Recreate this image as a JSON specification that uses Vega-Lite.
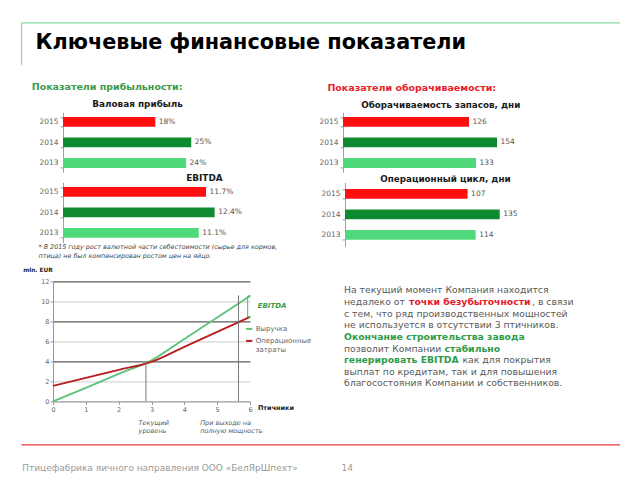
{
  "$schema": "https://vega.github.io/schema/vega-lite/v6.json",
  "background": "white",
  "padding": {"left": 0, "top": 22.4, "right": 0, "bottom": 0},
  "spacing": 0,
  "resolve": {"scale": {"color": "independent"}, "legend": {"color": "independent"}},
  "config": {
    "view": {"stroke": null},
    "font": "DejaVu Sans",
    "axis": {"labelFont": "DejaVu Sans", "titleFont": "DejaVu Sans"},
    "title": {"font": "DejaVu Sans"},
    "legend": {"labelFont": "DejaVu Sans"}
  },
  "vconcat": [
    {
      "bounds": "flush", "spacing": 0,
      "hconcat": [
        {"width": 21, "height": 1, "data": {"values": []}, "mark": {"type": "text", "text": ""}, "encoding": {}},
        {
          "width": 599, "height": 42,
          "data": {"values": []},
          "mark": {"type": "text", "text": ""},
          "encoding": {
            "x": {"field": "v", "type": "quantitative", "scale": {"domain": [0, 1]},
              "axis": {"orient": "top", "domainColor": "#86d9a0", "domainWidth": 1.2, "ticks": false, "labels": false, "grid": false,
                "title": "Ключевые финансовые показатели", "titleX": 14, "titleY": 26.3, "titleAlign": "left", "titleBaseline": "alphabetic",
                "titleFontSize": 20.8, "titleFontWeight": "bold", "titleColor": "#000000"}},
            "y": {"field": "v", "type": "quantitative", "scale": {"domain": [0, 1]},
              "axis": {"domainColor": "#86d9a0", "domainWidth": 1.2, "ticks": false, "labels": false, "grid": false, "title": null}}
          }
        }
      ]
    },
    {"width": 1, "height": 16.5, "data": {"values": []}, "mark": {"type": "text", "text": ""}, "encoding": {}},
    {
      "bounds": "flush", "spacing": 0,
      "resolve": {"scale": {"color": "independent"}, "legend": {"color": "independent"}},
      "hconcat": [
        {"width": 63, "height": 1, "data": {"values": []}, "mark": {"type": "text", "text": ""}, "encoding": {}},
        {
          "width": 279.3, "height": 60,
          "title": {"text": "Показатели прибыльности:", "anchor": "start", "frame": "group", "dx": -31.3, "offset": 8, "fontSize": 9.5, "fontWeight": "bold", "color": "#3a9a4c"},
          "data": {"values": [{"year": "2015", "value": 0.18}, {"year": "2014", "value": 0.25}, {"year": "2013", "value": 0.24}]},
          "encoding": {
            "y": {"field": "year", "type": "ordinal", "sort": "descending", "scale": {"paddingInner": 0.52, "paddingOuter": 0.22},
              "axis": {"domainColor": "#a0a0a0", "tickColor": "#a0a0a0", "tickSize": 3, "tickBand": "extent", "labelColor": "#666666", "labelFontSize": 7.5, "labelPadding": 2, "grid": false,
                "title": "Валовая прибыль", "titleX": 28.7, "titleY": -8.8, "titleAngle": 0, "titleAlign": "left", "titleBaseline": "middle", "titleFontSize": 8.9, "titleFontWeight": "bold", "titleColor": "#1a1a1a"}},
            "x": {"field": "value", "type": "quantitative", "scale": {"domain": [0, 0.5445], "nice": false}, "axis": null}
          },
          "layer": [
            {"mark": {"type": "bar"}, "encoding": {"color": {"field": "year", "type": "nominal", "scale": {"domain": ["2013", "2014", "2015"], "range": ["#4fd97b", "#108a30", "#ff1010"]}, "legend": null}}},
            {"mark": {"type": "text", "align": "left", "baseline": "middle", "dx": 3.5, "fontSize": 7.5, "color": "#555555"}, "encoding": {"text": {"field": "value", "type": "quantitative", "format": ".0%"}}}
          ]
        },
        {
          "width": 190, "height": 60,
          "title": {"text": "Показатели оборачиваемости:", "anchor": "start", "frame": "group", "dx": -15.6, "offset": 8, "fontSize": 9.5, "fontWeight": "bold", "color": "#e8202a"},
          "data": {"values": [{"year": "2015", "value": 126}, {"year": "2014", "value": 154}, {"year": "2013", "value": 133}]},
          "encoding": {
            "y": {"field": "year", "type": "ordinal", "sort": "descending", "scale": {"paddingInner": 0.52, "paddingOuter": 0.22},
              "axis": {"domainColor": "#a0a0a0", "tickColor": "#a0a0a0", "tickSize": 3, "tickBand": "extent", "labelColor": "#666666", "labelFontSize": 7.5, "labelPadding": 2, "grid": false,
                "title": "Оборачиваемость запасов, дни", "titleX": 17.7, "titleY": -7.5, "titleAngle": 0, "titleAlign": "left", "titleBaseline": "middle", "titleFontSize": 8.8, "titleFontWeight": "bold", "titleColor": "#1a1a1a"}},
            "x": {"field": "value", "type": "quantitative", "scale": {"domain": [0, 190], "nice": false}, "axis": null}
          },
          "layer": [
            {"mark": {"type": "bar"}, "encoding": {"color": {"field": "year", "type": "nominal", "scale": {"domain": ["2013", "2014", "2015"], "range": ["#4fd97b", "#108a30", "#ff1010"]}, "legend": null}}},
            {"mark": {"type": "text", "align": "left", "baseline": "middle", "dx": 3.5, "fontSize": 7.5, "color": "#555555"}, "encoding": {"text": {"field": "value", "type": "quantitative"}}}
          ]
        }
      ]
    },
    {"width": 1, "height": 1, "data": {"values": []}, "mark": {"type": "text", "text": ""}, "encoding": {}},
    {
      "bounds": "flush", "spacing": 0,
      "resolve": {"scale": {"color": "independent"}, "legend": {"color": "independent"}},
      "hconcat": [
        {"width": 63, "height": 1, "data": {"values": []}, "mark": {"type": "text", "text": ""}, "encoding": {}},
        {
          "width": 281.3, "height": 60,
          "data": {"values": [{"year": "2015", "value": 0.117}, {"year": "2014", "value": 0.124}, {"year": "2013", "value": 0.111}]},
          "encoding": {
            "y": {"field": "year", "type": "ordinal", "sort": "descending", "scale": {"paddingInner": 0.52, "paddingOuter": 0.22},
              "axis": {"domainColor": "#a0a0a0", "tickColor": "#a0a0a0", "tickSize": 3, "tickBand": "extent", "labelColor": "#666666", "labelFontSize": 7.5, "labelPadding": 2, "grid": false,
                "title": "EBITDA", "titleX": 122.7, "titleY": -4.8, "titleAngle": 0, "titleAlign": "left", "titleBaseline": "middle", "titleFontSize": 8.9, "titleFontWeight": "bold", "titleColor": "#1a1a1a"}},
            "x": {"field": "value", "type": "quantitative", "scale": {"domain": [0, 0.23], "nice": false},
              "axis": {"orient": "bottom", "domain": false, "ticks": false, "labels": false, "grid": false,
                "title": ["* В 2015 году рост валютной части себестоимости (сырье для кормов,", "птица) не был компенсирован ростом цен на яйцо."],
                "titleX": -25, "titleY": 1.5, "titleAlign": "left", "titleBaseline": "top", "titleAngle": 0, "titleFontSize": 6.4, "titleFontStyle": "italic", "titleFontWeight": "normal", "titleColor": "#444444", "titleLineHeight": 9}}
          },
          "layer": [
            {"mark": {"type": "bar"}, "encoding": {"color": {"field": "year", "type": "nominal", "scale": {"domain": ["2013", "2014", "2015"], "range": ["#4fd97b", "#108a30", "#ff1010"]}, "legend": null}}},
            {"mark": {"type": "text", "align": "left", "baseline": "middle", "dx": 3.5, "fontSize": 7.5, "color": "#555555"}, "encoding": {"text": {"field": "value", "type": "quantitative", "format": ".1%"}}}
          ]
        },
        {
          "width": 175, "height": 64,
          "data": {"values": [{"year": "2015", "value": 107}, {"year": "2014", "value": 135}, {"year": "2013", "value": 114}]},
          "encoding": {
            "y": {"field": "year", "type": "ordinal", "sort": "descending", "scale": {"paddingInner": 0.52, "paddingOuter": 0.32},
              "axis": {"domainColor": "#a0a0a0", "tickColor": "#a0a0a0", "tickSize": 3, "tickBand": "extent", "labelColor": "#666666", "labelFontSize": 7.5, "labelPadding": 2, "grid": false,
                "title": "Операционный цикл, дни", "titleX": 34.7, "titleY": -4.2, "titleAngle": 0, "titleAlign": "left", "titleBaseline": "middle", "titleFontSize": 8.8, "titleFontWeight": "bold", "titleColor": "#1a1a1a"}},
            "x": {"field": "value", "type": "quantitative", "scale": {"domain": [0, 152.7], "nice": false}, "axis": null}
          },
          "layer": [
            {"mark": {"type": "bar"}, "encoding": {"color": {"field": "year", "type": "nominal", "scale": {"domain": ["2013", "2014", "2015"], "range": ["#4fd97b", "#108a30", "#ff1010"]}, "legend": null}}},
            {"mark": {"type": "text", "align": "left", "baseline": "middle", "dx": 3.5, "fontSize": 7.5, "color": "#555555"}, "encoding": {"text": {"field": "value", "type": "quantitative"}}}
          ]
        }
      ]
    },
    {"width": 1, "height": 6.2, "data": {"values": []}, "mark": {"type": "text", "text": ""}, "encoding": {}},
    {
      "bounds": "flush", "spacing": 0,
      "resolve": {"scale": {"color": "independent"}, "legend": {"color": "independent"}},
      "hconcat": [
        {"width": 52.3, "height": 1, "data": {"values": []}, "mark": {"type": "text", "text": ""}, "encoding": {}},
        {
          "width": 197, "height": 120,
          "resolve": {"axis": {"x": "independent", "y": "independent"}},
          "layer": [
            {
              "data": {"values": [
                {"series": "Выручка", "x": 0, "y": 0},
                {"series": "Выручка", "x": 1, "y": 1.35},
                {"series": "Выручка", "x": 2, "y": 2.75},
                {"series": "Выручка", "x": 3, "y": 4.1},
                {"series": "Выручка", "x": 4, "y": 6.25},
                {"series": "Выручка", "x": 5, "y": 8.4},
                {"series": "Выручка", "x": 6, "y": 10.55},
                {"series": "Операционные затраты", "x": 0, "y": 1.55},
                {"series": "Операционные затраты", "x": 1, "y": 2.35},
                {"series": "Операционные затраты", "x": 2, "y": 3.15},
                {"series": "Операционные затраты", "x": 3, "y": 3.95},
                {"series": "Операционные затраты", "x": 4, "y": 5.45},
                {"series": "Операционные затраты", "x": 5, "y": 6.95},
                {"series": "Операционные затраты", "x": 6, "y": 8.45}
              ]},
              "mark": {"type": "line", "strokeWidth": 1.8, "interpolate": "monotone"},
              "encoding": {
                "x": {"field": "x", "type": "quantitative", "scale": {"domain": [0, 6], "nice": false},
                  "axis": {"values": [0, 1, 2, 3, 4, 5, 6], "format": "d", "labelOverlap": false, "labelBound": false, "labelFlush": false, "domainColor": "#999999", "tickColor": "#999999", "tickSize": 3, "labelFontSize": 6.5, "labelColor": "#666666", "labelPadding": 2, "grid": false,
                    "title": "Птичники", "titleX": 204.4, "titleY": 6.6, "titleAlign": "left", "titleBaseline": "middle", "titleAngle": 0, "titleFontSize": 6.5, "titleFontWeight": "bold", "titleColor": "#222222"}},
                "y": {"field": "y", "type": "quantitative", "scale": {"domain": [0, 12], "nice": false},
                  "axis": {"values": [0, 2, 4, 6, 8, 10, 12], "labelOverlap": false, "labelBound": false, "labelFlush": false, "domainColor": "#999999", "tickColor": "#999999", "tickSize": 3, "labelFontSize": 6.5, "labelColor": "#666666", "labelPadding": 1,
                    "grid": true, "gridColor": {"condition": {"test": "datum.value == 4 || datum.value == 8 || datum.value == 12", "value": "#333333"}, "value": "#cccccc"}, "gridWidth": 1,
                    "title": "mln. EUR", "titleX": -30.3, "titleY": -11.7, "titleAlign": "left", "titleBaseline": "middle", "titleAngle": 0, "titleFontSize": 5.8, "titleFontWeight": "bold", "titleColor": "#222222"}},
                "color": {"field": "series", "type": "nominal", "scale": {"domain": ["Выручка", "Операционные затраты"], "range": ["#5cc27a", "#b81e1e"]},
                  "legend": {"orient": "none", "legendX": 191.7, "legendY": 43, "title": null, "symbolType": "stroke", "symbolStrokeWidth": 2, "symbolSize": 40, "labelFontSize": 7, "labelColor": "#666666", "labelOffset": 2, "rowPadding": 3,
                    "labelExpr": "datum.label == 'Операционные затраты' ? ['Операционные', 'затраты'] : datum.label"}}
              }
            },
            {
              "data": {"values": [
                {"x": 2.83, "top": 3.85, "t": "Текущий\nуровень"},
                {"x": 5.65, "top": 10.6, "t": "При выходе на\nполную мощность"}
              ]},
              "layer": [
                {"mark": {"type": "rule", "color": "#777777", "strokeWidth": 1}, "encoding": {"x": {"field": "x", "type": "quantitative", "axis": null}, "y": {"field": "top", "type": "quantitative", "axis": null}, "y2": {"datum": 0}}},
                {"transform": [{"filter": "datum.x < 4"}], "mark": {"type": "text", "align": "left", "baseline": "top", "dx": -7.3, "dy": 18.8, "lineBreak": "\n", "lineHeight": 8, "fontSize": 6.5, "fontStyle": "italic", "color": "#555555"},
                  "encoding": {"x": {"field": "x", "type": "quantitative", "axis": null}, "y": {"datum": 0, "type": "quantitative", "axis": null}, "text": {"field": "t"}}},
                {"transform": [{"filter": "datum.x >= 4"}], "mark": {"type": "text", "align": "left", "baseline": "top", "dx": -38.3, "dy": 18.8, "lineBreak": "\n", "lineHeight": 8, "fontSize": 6.5, "fontStyle": "italic", "color": "#555555"},
                  "encoding": {"x": {"field": "x", "type": "quantitative", "axis": null}, "y": {"datum": 0, "type": "quantitative", "axis": null}, "text": {"field": "t"}}}
              ]
            },
            {
              "data": {"values": [{"x": 5.93, "lo": 8.45, "hi": 10.55, "label": "EBITDA"}]},
              "layer": [
                {"mark": {"type": "rule", "color": "#4cb866", "strokeWidth": 1}, "encoding": {"x": {"field": "x", "type": "quantitative", "axis": null}, "y": {"field": "lo", "type": "quantitative", "axis": null}, "y2": {"field": "hi"}}},
                {"mark": {"type": "rule", "color": "#4cb866", "strokeWidth": 1}, "encoding": {"x": {"field": "x", "type": "quantitative", "axis": null}, "x2": {"datum": 6.03}, "y": {"field": "lo", "type": "quantitative", "axis": null}}},
                {"mark": {"type": "rule", "color": "#4cb866", "strokeWidth": 1}, "encoding": {"x": {"field": "x", "type": "quantitative", "axis": null}, "x2": {"datum": 6.03}, "y": {"field": "hi", "type": "quantitative", "axis": null}}},
                {"mark": {"type": "text", "align": "left", "baseline": "middle", "dx": 10, "fontSize": 7, "fontWeight": "bold", "fontStyle": "italic", "color": "#3a9a4c"},
                  "encoding": {"x": {"field": "x", "type": "quantitative", "axis": null}, "y": {"datum": 9.5, "type": "quantitative", "axis": null}, "text": {"field": "label"}}}
              ]
            }
          ]
        },
        {"width": 93.4, "height": 1, "data": {"values": []}, "mark": {"type": "text", "text": ""}, "encoding": {}},
        {
          "width": 270, "height": 111,
          "data": {"values": [
            {"line": 1, "part": 1, "kind": "n", "text": "На текущий момент Компания находится"},
            {"line": 2, "part": 1, "kind": "n", "text": "недалеко от"},
            {"line": 2, "part": 2, "kind": "r", "text": "точки безубыточности"},
            {"line": 2, "part": 3, "kind": "n", "text": ", в связи"},
            {"line": 3, "part": 1, "kind": "n", "text": "с тем, что ряд производственных мощностей"},
            {"line": 4, "part": 1, "kind": "n", "text": "не используется в отсутствии 3 птичников."},
            {"line": 5, "part": 1, "kind": "g", "text": "Окончание строительства завода"},
            {"line": 6, "part": 1, "kind": "n", "text": "позволит Компании"},
            {"line": 6, "part": 2, "kind": "g", "text": "стабильно"},
            {"line": 7, "part": 1, "kind": "g", "text": "генерировать EBITDA"},
            {"line": 7, "part": 2, "kind": "n", "text": "как для покрытия"},
            {"line": 8, "part": 1, "kind": "n", "text": "выплат по кредитам, так и для повышения"},
            {"line": 9, "part": 1, "kind": "n", "text": "благосостояния Компании и собственников."}
          ]},
          "encoding": {
            "y": {"field": "line", "type": "ordinal", "scale": {"type": "point", "padding": 0.776}, "axis": null},
            "x": {"datum": 0, "type": "quantitative", "scale": {"domain": [0, 1]}, "axis": null},
            "text": {"field": "text"}
          },
          "layer": [
            {"transform": [{"filter": "datum.part == 1 && datum.kind == 'n'"}], "mark": {"type": "text", "align": "left", "baseline": "middle", "fontSize": 9.3, "color": "#595959"}},
            {"transform": [{"filter": "datum.part == 1 && datum.kind == 'g'"}], "mark": {"type": "text", "align": "left", "baseline": "middle", "fontSize": 9.3, "fontWeight": "bold", "color": "#2e9b4a"}},
            {"transform": [{"filter": "datum.line == 2 && datum.part == 2"}], "mark": {"type": "text", "align": "left", "baseline": "middle", "dx": 65, "fontSize": 9.3, "fontWeight": "bold", "color": "#e8192c"}},
            {"transform": [{"filter": "datum.line == 2 && datum.part == 3"}], "mark": {"type": "text", "align": "left", "baseline": "middle", "dx": 188, "fontSize": 9.3, "color": "#595959"}},
            {"transform": [{"filter": "datum.line == 6 && datum.part == 2"}], "mark": {"type": "text", "align": "left", "baseline": "middle", "dx": 100.5, "fontSize": 9.3, "fontWeight": "bold", "color": "#2e9b4a"}},
            {"transform": [{"filter": "datum.line == 7 && datum.part == 2"}], "mark": {"type": "text", "align": "left", "baseline": "middle", "dx": 118.5, "fontSize": 9.3, "color": "#595959"}}
          ]
        }
      ]
    },
    {"width": 1, "height": 7.3, "data": {"values": []}, "mark": {"type": "text", "text": ""}, "encoding": {}},
    {
      "bounds": "flush", "spacing": 0,
      "hconcat": [
        {"width": 21, "height": 1, "data": {"values": []}, "mark": {"type": "text", "text": ""}, "encoding": {}},
        {
          "width": 599, "height": 1,
          "data": {"values": []},
          "mark": {"type": "text", "text": ""},
          "encoding": {
            "x": {"field": "v", "type": "quantitative", "scale": {"domain": [0, 1]},
              "axis": {"orient": "bottom", "domainColor": "#e8383d", "domainWidth": 1.3, "ticks": false, "labels": false, "grid": false,
                "title": "Птицефабрика яичного направления ООО «БелЯрШпехт»", "titleX": 0.7, "titleY": 23.2, "titleAlign": "left", "titleBaseline": "middle",
                "titleFontSize": 9, "titleFontWeight": "normal", "titleColor": "#9a9a9a"}},
            "y": {"field": "v", "type": "quantitative", "scale": {"domain": [0, 1]},
              "axis": {"domain": false, "ticks": false, "labels": false, "grid": false,
                "title": "14", "titleX": 320, "titleY": 24.2, "titleAngle": 0, "titleAlign": "left", "titleBaseline": "middle",
                "titleFontSize": 9, "titleFontWeight": "normal", "titleColor": "#9a9a9a"}}
          }
        }
      ]
    }
  ]
}
